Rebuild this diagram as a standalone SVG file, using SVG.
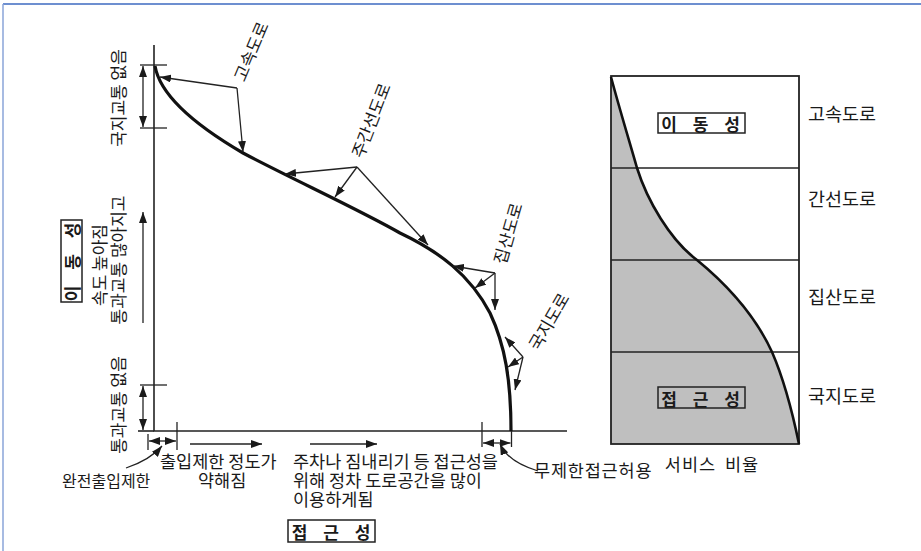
<svg xmlns="http://www.w3.org/2000/svg" width="921" height="551" viewBox="0 0 921 551">
<defs>
<marker id="ah" markerUnits="userSpaceOnUse" markerWidth="11" markerHeight="8" refX="11" refY="4" orient="auto-start-reverse" viewBox="0 0 11 8">
<path d="M0,0 L11,4 L0,8 z" fill="#1a1a1a"/>
</marker>
</defs>
<style>
text{font-family:"Noto Sans CJK KR","Noto Sans",sans-serif;fill:#1a1a1a;}
.t16{font-size:16px;}
.t17{font-size:17px;}
.tb{font-size:17.5px;}
.tr{font-size:18.5px;}
.ln{stroke:#222;stroke-width:1.6;fill:none;}
.thin{stroke:#222;stroke-width:1.3;fill:none;}
.ar{stroke:#222;stroke-width:1.3;fill:none;marker-end:url(#ah);}
.da{stroke:#222;stroke-width:1.3;fill:none;marker-start:url(#ah);marker-end:url(#ah);}
.curve{stroke:#111;stroke-width:3.2;fill:none;}
.bx{font-size:17px;font-weight:bold;letter-spacing:2px;word-spacing:8px;}
</style>
<rect width="921" height="551" fill="#ffffff"/>
<g id="frame">
<line x1="3" y1="4" x2="921" y2="4" stroke="#6d8fd0" stroke-width="2"/>
<line x1="3" y1="4" x2="3" y2="551" stroke="#8aa4d8" stroke-width="1.5"/>
</g>

<g id="axes">
<polyline class="ln" points="154,45 154,431 567,431"/>
<line class="ln" x1="138" y1="431" x2="154" y2="431"/>
<line class="thin" x1="140" y1="65" x2="167" y2="65"/>
<line class="thin" x1="140" y1="128" x2="167" y2="128"/>
<line class="thin" x1="140" y1="385" x2="167" y2="385"/>
<line class="thin" x1="148" y1="434" x2="148" y2="450"/>
<line class="thin" x1="177" y1="422" x2="177" y2="450"/>
<line class="thin" x1="482" y1="422" x2="482" y2="447"/>
<line class="thin" x1="511.5" y1="431" x2="511.5" y2="447"/>
</g>

<g id="main-curve">
<path class="curve" d="M155,66 C160,95 195,125 243,153 C290,178 360,210 400,233 C440,252 470,275 490,313 C505,345 511,380 511,431"/>
</g>

<g id="connectors">
<line class="da" x1="143" y1="66" x2="143" y2="127"/>
<line class="ar" x1="143" y1="323" x2="143" y2="212"/>
<line class="da" x1="143" y1="386" x2="143" y2="430"/>
<line class="da" x1="149" y1="441" x2="176" y2="441"/>
<line class="ar" x1="190" y1="444" x2="262" y2="444"/>
<line class="ar" x1="310" y1="444" x2="377" y2="444"/>
<line class="da" x1="483" y1="443" x2="510.5" y2="443"/>
<path class="ar" d="M126,468 Q150,460 162,446"/>
<path class="ar" d="M538,471 Q508,462 500,444"/>
<line class="ar" x1="237" y1="88" x2="160" y2="77"/>
<line class="ar" x1="237" y1="88" x2="243" y2="152"/>
<line class="ar" x1="357" y1="167" x2="285" y2="174"/>
<line class="ar" x1="357" y1="167" x2="335" y2="197"/>
<line class="ar" x1="357" y1="167" x2="428" y2="245"/>
<line class="ar" x1="495" y1="273" x2="453" y2="266"/>
<line class="ar" x1="495" y1="273" x2="475" y2="288"/>
<line class="ar" x1="495" y1="273" x2="495" y2="310"/>
<line class="ar" x1="523" y1="357" x2="505" y2="337"/>
<line class="ar" x1="523" y1="357" x2="508" y2="367"/>
<line class="ar" x1="523" y1="357" x2="515" y2="390"/>
</g>

<g id="curve-labels">
<text class="t17" transform="translate(250,51) rotate(-67)" text-anchor="middle" dominant-baseline="central">고속도로</text>
<text class="t17" transform="translate(370,120) rotate(-69)" text-anchor="middle" dominant-baseline="central">주간선도로</text>
<text class="t17" transform="translate(507,233) rotate(-74)" text-anchor="middle" dominant-baseline="central">집산도로</text>
<text class="t17" transform="translate(548,321) rotate(-60)" text-anchor="middle" dominant-baseline="central">국지도로</text>
</g>

<g id="y-labels">
<text class="t17" transform="translate(117,98) rotate(-90)" text-anchor="middle" dominant-baseline="central">국지교통 없음</text>
<text class="t17" transform="translate(117,260) rotate(-90)" text-anchor="middle" dominant-baseline="central">통과교통 많아지고</text>
<text class="t17" transform="translate(98,265) rotate(-90)" text-anchor="middle" dominant-baseline="central">속도 높아짐</text>
<text class="t17" transform="translate(117,405) rotate(-90)" text-anchor="middle" dominant-baseline="central">통과교통 없음</text>
</g>

<g id="mobility-left">
<rect x="61" y="220" width="21" height="82" fill="#ffffff" stroke="#222" stroke-width="1.5"/>
<text class="bx" transform="translate(71.5,261) rotate(-90)" text-anchor="middle" dominant-baseline="central">이 동 성</text>
</g>

<g id="x-labels">
<text class="t16" x="62" y="487" font-size="16.5">완전출입제한</text>
<text class="tb" x="160" y="468">출입제한 정도가<tspan x="198" y="487">약해짐</tspan></text>
<text class="tb" x="293" y="468">주차나 짐내리기 등 접근성을<tspan x="293" y="487">위해 정차 도로공간을 많이</tspan><tspan x="293" y="506">이용하게됨</tspan></text>
<text class="tb" x="534" y="477" letter-spacing="0.8">무제한접근허용</text>
</g>

<g id="access-bottom">
<rect x="288" y="520" width="87" height="22" fill="#ffffff" stroke="#222" stroke-width="1.5"/>
<text class="bx" x="332" y="531" text-anchor="middle" dominant-baseline="central">접 근 성</text>
</g>

<g id="service-chart">
<path d="M611,77 C619,107 629,140 637,168 C647,200 670,240 697,260 C725,283 755,315 772,352 C782,375 792,410 799,444 L611,444 Z" fill="#bfbfbf"/>
<rect x="611" y="76" width="188" height="368" fill="none" stroke="#222" stroke-width="1.8"/>
<line class="thin" x1="611" y1="168" x2="799" y2="168"/>
<line class="thin" x1="611" y1="260" x2="799" y2="260"/>
<line class="thin" x1="611" y1="352" x2="799" y2="352"/>
<path d="M611,77 C619,107 629,140 637,168 C647,200 670,240 697,260 C725,283 755,315 772,352 C782,375 792,410 799,444" stroke="#111" stroke-width="2.6" fill="none"/>
<rect x="658" y="113" width="87" height="20" fill="#ffffff" stroke="#222" stroke-width="1.5"/>
<text class="bx" x="701.5" y="123.5" text-anchor="middle" dominant-baseline="central">이 동 성</text>
<rect x="658" y="387" width="87" height="21" fill="#bfbfbf" stroke="#222" stroke-width="1.5"/>
<text class="bx" x="701.5" y="398" text-anchor="middle" dominant-baseline="central">접 근 성</text>
<text class="tb" x="712" y="471" text-anchor="middle" letter-spacing="1" word-spacing="4">서비스 비율</text>
</g>

<g id="road-labels">
<text class="tr" x="808" y="121">고속도로</text>
<text class="tr" x="808" y="206">간선도로</text>
<text class="tr" x="808" y="304">집산도로</text>
<text class="tr" x="808" y="403">국지도로</text>
</g>
</svg>
